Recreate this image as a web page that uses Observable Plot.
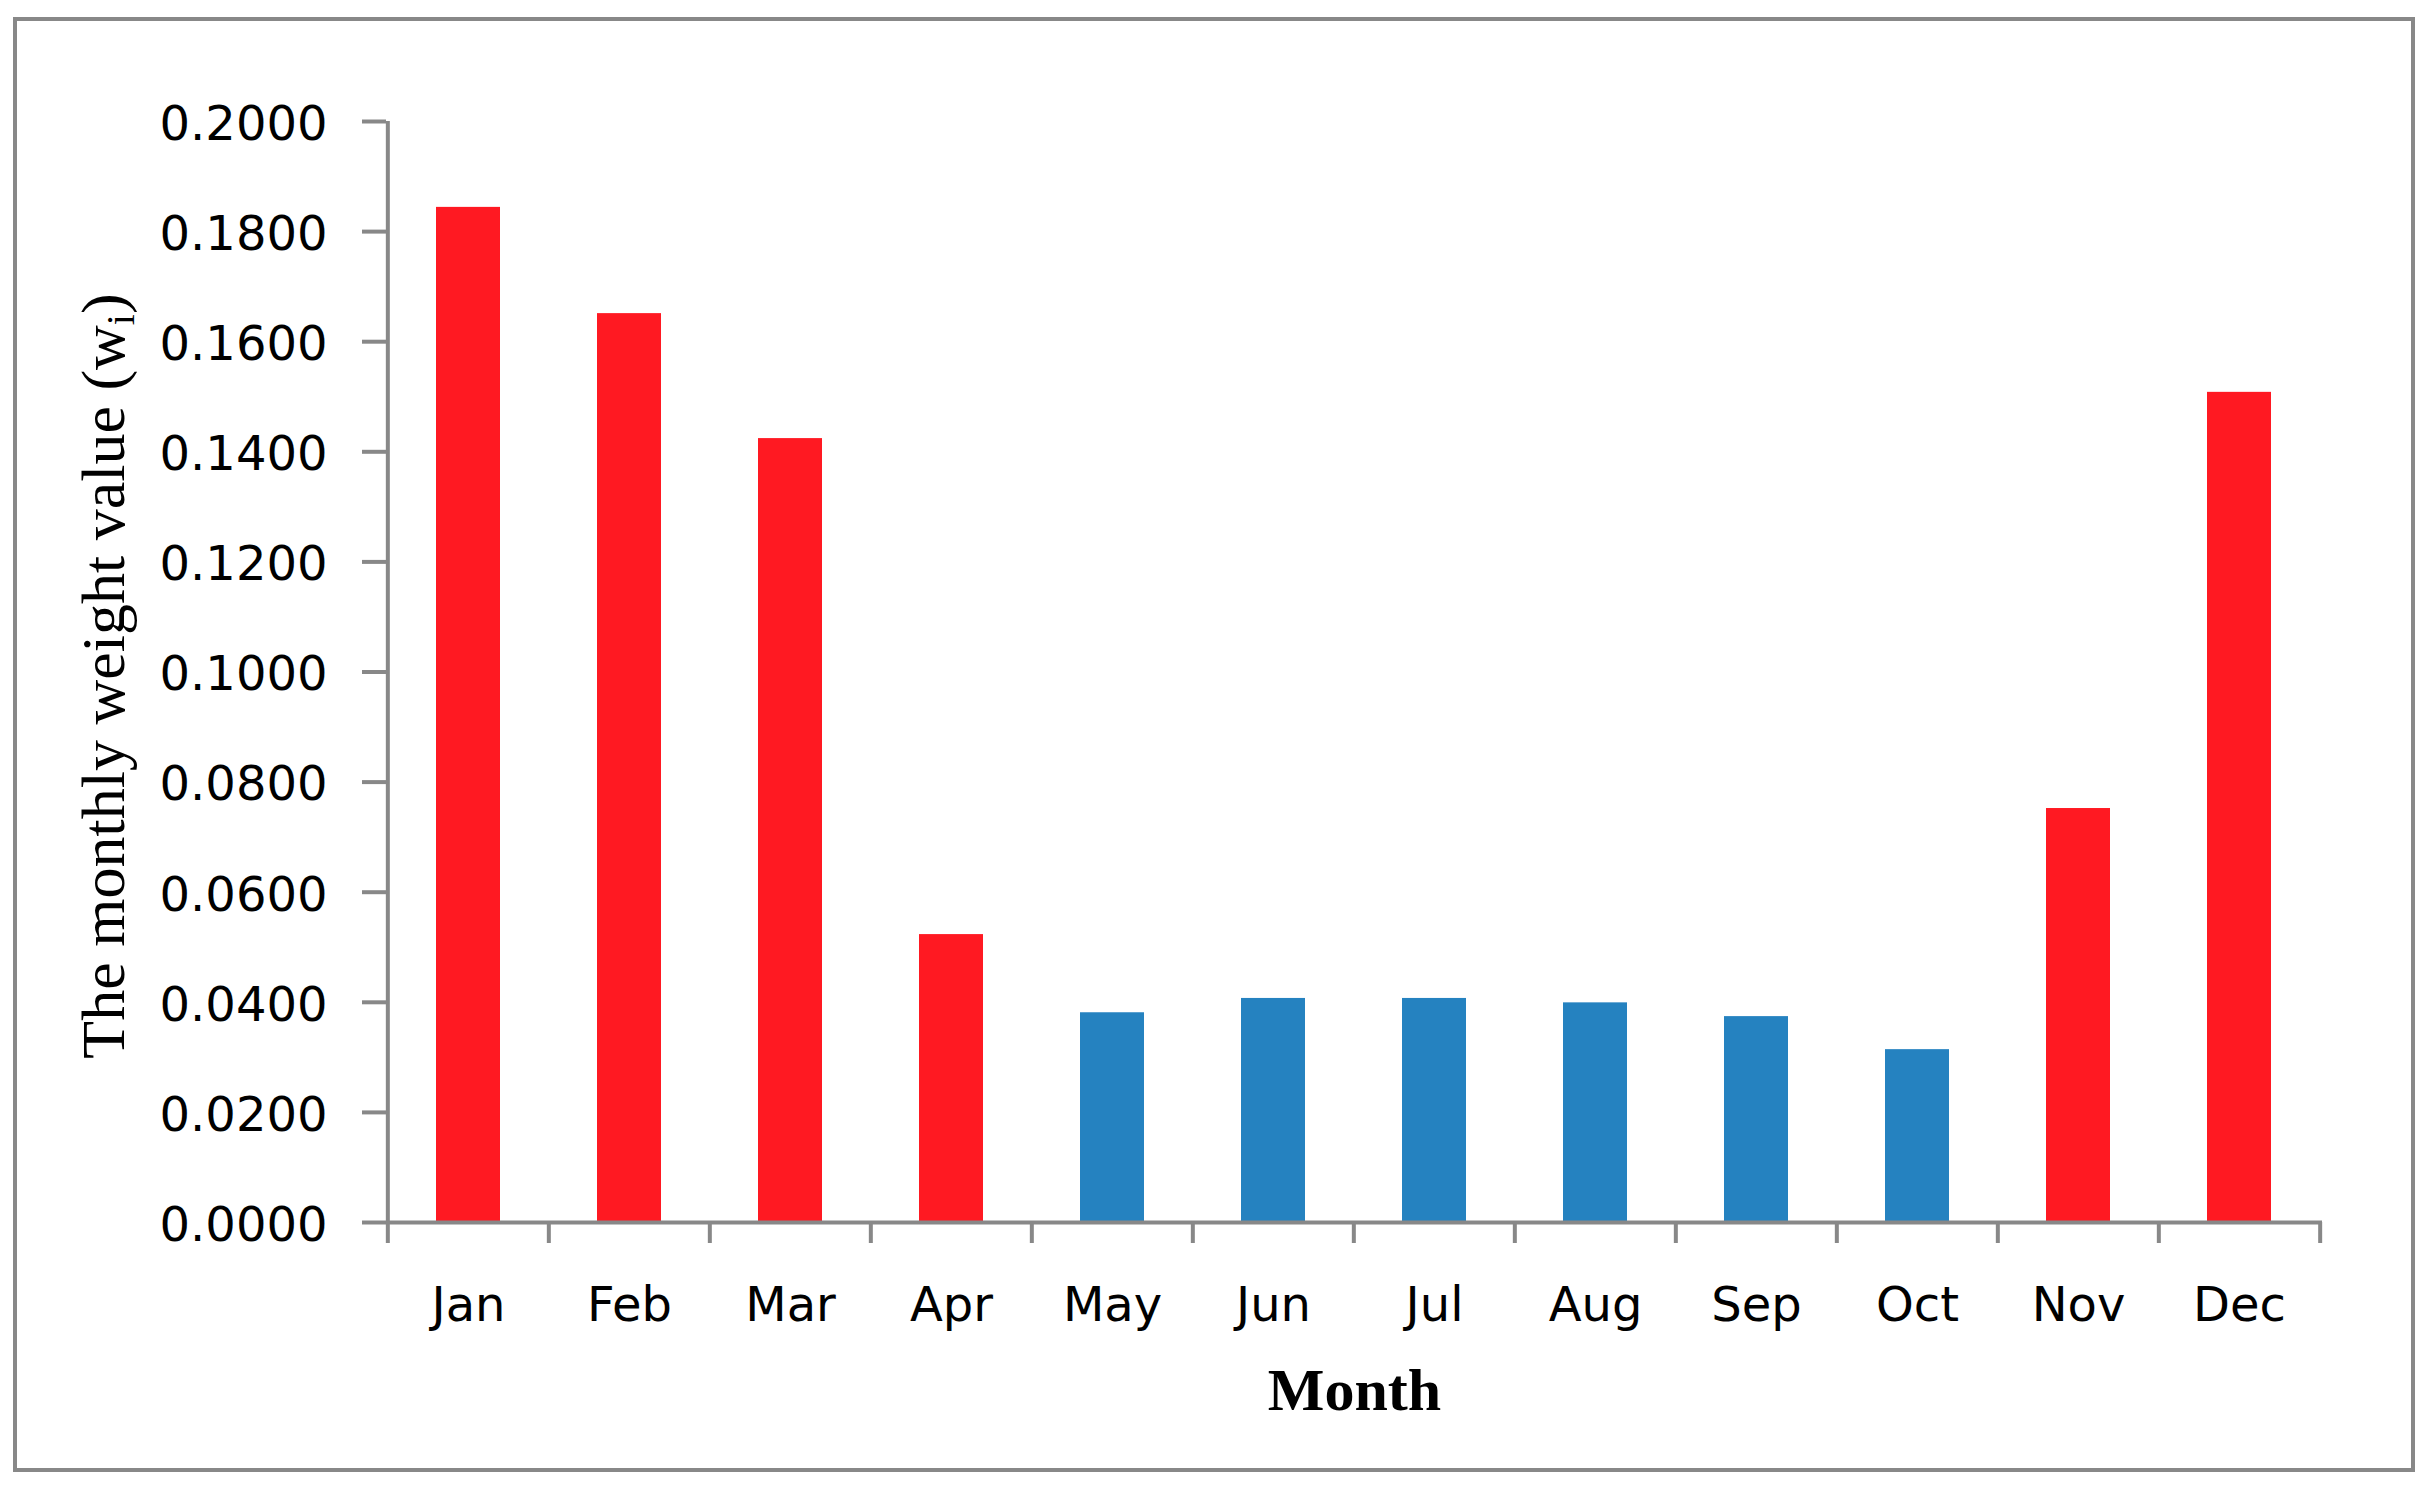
<!DOCTYPE html>
<html>
<head>
<meta charset="utf-8">
<script src="https://cdn.jsdelivr.net/npm/d3@7"></script>
<script src="https://cdn.jsdelivr.net/npm/@observablehq/plot@0.6"></script>
<style>
  html, body { margin: 0; padding: 0; background: #fff; }
  #wrap { position: relative; width: 2429px; height: 1488px; overflow: hidden; }
  #border { position: absolute; left: 13px; top: 17px; width: 2402px; height: 1455px;
            box-sizing: border-box; border: 4px solid #888888; pointer-events: none; }
  #chart svg { display: block; }
</style>
</head>
<body>
<div id="wrap">
  <div id="chart"></div>
  <div id="border"></div>
</div>
<script>
// ---- data ----
const months = ["Jan", "Feb", "Mar", "Apr", "May", "Jun", "Jul", "Aug", "Sep", "Oct", "Nov", "Dec"];
const weights = [0.1844, 0.1651, 0.1424, 0.0523, 0.0381, 0.0407, 0.0407, 0.0399, 0.0374, 0.0314, 0.0752, 0.1508];
const groups = ["high", "high", "high", "high", "low", "low", "low", "low", "low", "low", "high", "high"];
const groupNames = ["high", "low"];
const groupColors = ["#FF1922", "#2582C0"];
const yTicks = [0, 0.02, 0.04, 0.06, 0.08, 0.10, 0.12, 0.14, 0.16, 0.18, 0.20];
const yTitle = "The monthly weight value (wi)";
const xTitle = "Month";

const data = months.map((m, i) => ({month: m, w: weights[i], group: groups[i]}));

// ---- layout ----
const W = 2429, H = 1488;
const mL = 386, mR = 107, mT = 121, mB = 266;
const STEP = (W - mL - mR) / months.length;
const AXIS = "#888888";

const chart = Plot.plot({
  width: W,
  height: H,
  marginLeft: mL,
  marginRight: mR,
  marginTop: mT,
  marginBottom: mB,
  style: {background: "transparent", color: "#000"},
  x: {domain: months, paddingInner: 0.6, paddingOuter: 0.3, align: 0.5, label: null},
  y: {domain: [yTicks[0], yTicks[yTicks.length - 1]], label: null},
  color: {domain: groupNames, range: groupColors},
  marks: [
    Plot.barY(data, {x: "month", y: "w", fill: "group"}),
    // x axis line
    Plot.ruleY([0], {stroke: AXIS, strokeWidth: 4}),
    // y axis line
    Plot.ruleX([months[0]], {x: d => d, y1: yTicks[0], y2: yTicks[yTicks.length - 1], dx: -STEP / 2, stroke: AXIS, strokeWidth: 4}),
    // y tick marks
    Plot.axisY({ticks: yTicks, tickSize: 24, tickFormat: () => "", stroke: AXIS, strokeWidth: 4, label: null}),
    // y tick labels
    Plot.axisY({ticks: yTicks, tickSize: 0, tickPadding: 59, tickFormat: d3.format(".4f"),
                fontSize: 48, fontFamily: "DejaVu Sans", fill: "#000", dy: 3, label: null}),
    // x tick marks at category boundaries
    Plot.axisX({ticks: months, tickSize: 21, tickFormat: () => "", dx: -STEP / 2, stroke: AXIS, strokeWidth: 4, label: null}),
    Plot.axisX({ticks: [months[months.length - 1]], tickSize: 21, tickFormat: () => "", dx: STEP / 2, stroke: AXIS, strokeWidth: 4, label: null}),
    // x tick labels
    Plot.axisX({ticks: months, tickSize: 0, tickPadding: 64, fontSize: 48, fontFamily: "DejaVu Sans", fill: "#000", label: null}),
    // axis titles
    Plot.text([yTitle], {text: d => d, frameAnchor: "left", textAnchor: "middle", dx: -263, dy: 4, rotate: -90, lineAnchor: "bottom",
                         fontFamily: "Liberation Serif", fontSize: 62, fill: "#000"}),
    Plot.text([xTitle], {text: d => d, frameAnchor: "bottom", textAnchor: "middle", dy: 187, lineAnchor: "bottom",
                         fontFamily: "Liberation Serif", fontWeight: "bold", fontSize: 60, fill: "#000"})
  ]
});

document.getElementById("chart").appendChild(chart);

// subscript i in the y title
chart.querySelectorAll("text").forEach(t => {
  if (t.textContent === yTitle) {
    const ns = "http://www.w3.org/2000/svg";
    t.textContent = "";
    const a = document.createElementNS(ns, "tspan");
    a.textContent = "The monthly weight value (w";
    const s = document.createElementNS(ns, "tspan");
    s.textContent = "i";
    s.setAttribute("font-size", "40");
    s.setAttribute("dy", "10");
    const c = document.createElementNS(ns, "tspan");
    c.textContent = ")";
    c.setAttribute("dy", "-10");
    t.appendChild(a); t.appendChild(s); t.appendChild(c);
  }
});
</script>
</body>
</html>
